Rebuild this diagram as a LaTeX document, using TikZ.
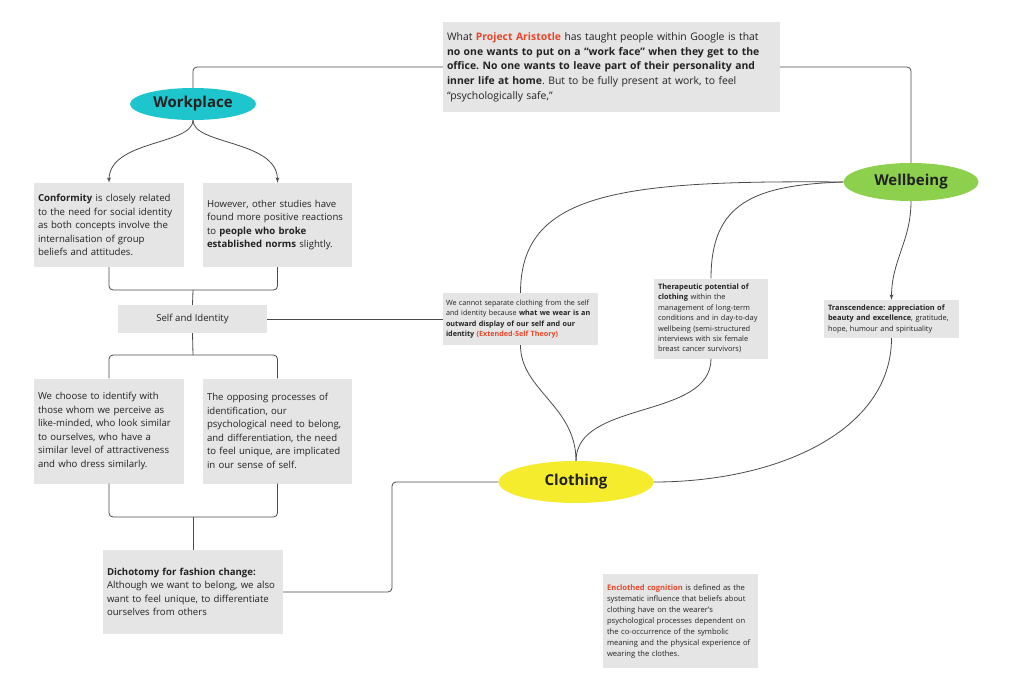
\documentclass[tikz,border=0pt]{standalone}
\usepackage{fontspec}
\setmainfont{Open Sans}
\usetikzlibrary{arrows}
\usetikzlibrary{shapes.geometric}
\definecolor{mgray}{HTML}{E5E5E5}
\definecolor{mline}{HTML}{4A4A4A}
\definecolor{mred}{HTML}{E8462A}
\definecolor{mcyan}{HTML}{1FC5CD}
\definecolor{mgreen}{HTML}{8CD04E}
\definecolor{myellow}{HTML}{F4EC2C}
\definecolor{mtext}{HTML}{222222}
\tikzset{box/.style = {fill=mgray, inner xsep=4, inner ysep=4, align=left, text=mtext,
                       font=\fontsize{9.6}{13.5}\selectfont}}
\tikzset{smallbox/.style = {box, inner xsep=4, font=\fontsize{7.4}{10.4}\selectfont}}
\tikzset{topic/.style = {ellipse, inner sep=0, text=mtext, font=\fontsize{15}{17}\selectfont\bfseries}}
\tikzset{link/.style = {draw=mline, line width=0.8pt}}
\tikzset{arr/.style = {link, -latex'}}
\newcommand{\hl}[1]{\textcolor{mred}{\textbf{#1}}}
\frenchspacing
\hyphenpenalty=10000
\exhyphenpenalty=10000

\begin{document}
\begin{tikzpicture}[x=1pt, y=-1pt]
    \useasboundingbox (0, 0) rectangle (1024, 694);

    \node [box, text width=329pt, minimum height=90pt, font=\fontsize{10.4}{14.7}\selectfont] (aristotle) at (611.5, 67)
      {What \hl{Project Aristotle} has taught people within Google is that\\
       \textbf{no one wants to put on a “work face” when they get to the}\\
       \textbf{office. No one wants to leave part of their personality and}\\
       \textbf{inner life at home}. But to be fully present at work, to feel\\
       “psychologically safe,”};

    \node [topic, fill=mcyan, minimum width=126pt, minimum height=32pt] (work) at (193, 104) {Workplace};
    \node [topic, fill=mgreen, minimum width=135pt, minimum height=38pt] (well) at (911, 182) {Wellbeing};
    \node [topic, fill=myellow, minimum width=155pt, minimum height=42pt] (cloth) at (576, 482) {Clothing};

    % left column
    \node [box, text width=142pt, minimum height=84pt] (conform) at (109, 225)
      {\textbf{Conformity} is closely related\\ to the need for social identity\\ as both concepts involve the\\
       internalisation of group\\ beliefs and attitudes.};
    \node [box, text width=141pt, minimum height=84pt] (norms) at (277.5, 225)
      {However, other studies have\\ found more positive reactions\\ to \textbf{people who broke}\\
       \textbf{established norms} slightly.};
    \node [box, align=center, minimum width=149pt, minimum height=28pt] (self) at (192.5, 319) {Self and Identity};
    \node [box, text width=142pt, minimum height=105pt] (similar) at (109, 431)
      {We choose to identify with\\ those whom we perceive as\\ like-minded, who look similar\\
       to ourselves, who have a\\ similar level of attractiveness\\ and who dress similarly.};
    \node [box, text width=141pt, minimum height=105pt] (unique) at (277.5, 431)
      {The opposing processes of\\ identification, our\\ psychological need to belong,\\
       and differentiation, the need\\ to feel unique, are implicated\\ in our sense of self.};
    \node [box, text width=172pt, minimum height=84pt] (dichotomy) at (193, 592)
      {\textbf{Dichotomy for fashion change:}\\ Although we want to belong, we also\\
       want to feel unique, to differentiate\\ ourselves from others};

    % small notes
    \node [smallbox, inner xsep=3, text width=149pt, minimum height=52pt, font=\fontsize{7.2}{10.4}\selectfont] (extended) at (520.5, 319)
      {We cannot separate clothing from the self\\ and identity because \textbf{what we wear is an}\\
       \textbf{outward display of our self and our}\\ \textbf{identity} \hl{(Extended-Self Theory)}};
    \node [smallbox, text width=106pt, minimum height=80pt] (therapy) at (711, 318.5)
      {\textbf{Therapeutic potential of}\\ \textbf{clothing} within the\\ management of long-term\\
       conditions and in day-to-day\\ wellbeing (semi-structured\\ interviews with six female\\
       breast cancer survivors)};
    \node [smallbox, text width=127pt, minimum height=38pt] (transcend) at (891.5, 319)
      {\textbf{Transcendence: appreciation of}\\ \textbf{beauty and excellence}, gratitude,\\
       hope, humour and spirituality};
    \node [smallbox, text width=147pt, minimum height=94pt, font=\fontsize{7.6}{11}\selectfont] (enclothed) at (680.5, 621)
      {\hl{Enclothed cognition} is defined as the\\ systematic influence that beliefs about\\
       clothing have on the wearer’s\\ psychological processes dependent on\\
       the co-occurrence of the symbolic\\ meaning and the physical experience of\\
       wearing the clothes.};

    \coordinate (j1) at (193, 290);
    \coordinate (j2) at (193, 355);
    \coordinate (j3) at (193, 517);
    \coordinate (cbend) at (392, 482);

    \draw [link, rounded corners=4] (aristotle.west) -| (work.north);
    \draw [link, rounded corners=4] (aristotle.east) -| (well.north);

    \draw [arr] (work.south) .. controls +(0, 25) and +(0, -43) .. (conform.north);
    \draw [arr] (work.south) .. controls +(0, 25) and +(0, -43) .. (norms.north);

    \draw [link, rounded corners=4] (conform.south) |- (j1) -| (norms.south);
    \draw [link] (j1) -- (self.north);
    \draw [link] (self.east) -- (extended.west);
    \draw [link, rounded corners=4] (similar.north) |- (j2) -| (unique.north);
    \draw [link] (self.south) -- (j2);
    \draw [link, rounded corners=4] (similar.south) |- (j3) -| (unique.south);
    \draw [link] (j3) -- (dichotomy.north);
    \draw [link, rounded corners=4] (dichotomy.east) -| (cbend) -- (cloth.west);

    \draw [link] (well.west) .. controls +(-225, -2) and +(0, -100) .. (extended.north);
    \draw [link] (well.west) .. controls +(-90, 3) and +(0, -75) .. (therapy.north);
    \draw [link] (extended.south) .. controls +(0, 45) and +(0, -55) .. (cloth.north);
    \draw [link] (therapy.south) .. controls +(0, 61) and +(0, -61) .. (cloth.north);
    \draw [link] (transcend.south) .. controls +(0, 92) and +(125, 0) .. (cloth.east);
    \draw [arr] (well.south) .. controls +(0, 40) and +(0, -40) .. (transcend.north);
  \end{tikzpicture}
\end{document}
